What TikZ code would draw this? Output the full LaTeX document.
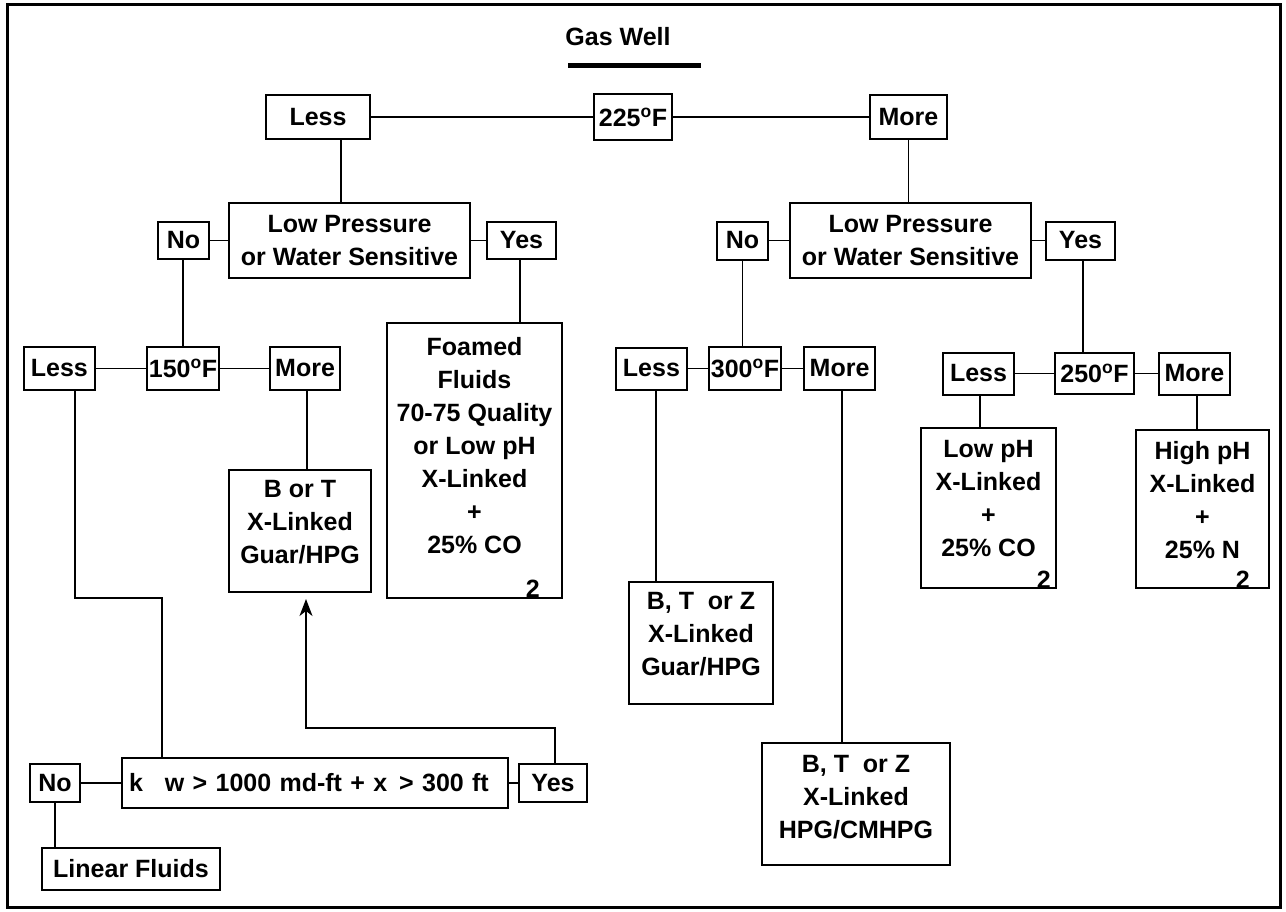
\documentclass[tikz,border=0pt]{standalone}
\usepackage{fontspec}
\setmainfont{Liberation Sans}
\usetikzlibrary{positioning,arrows.meta}

\tikzset{
  box/.style={draw, line width=2pt, inner sep=2pt, align=center,
    font=\fontsize{25}{33}\selectfont\bfseries},
  sub/.style={inner sep=0pt, font=\fontsize{25}{33}\selectfont\bfseries},
  link/.style={line width=1.6pt},
}

\begin{document}
\begin{tikzpicture}[x=1pt,y=-1pt]
    \useasboundingbox (0,0) rectangle (1286,911);
    \draw[line width=3pt] (7,4) rectangle (1280,907);

    \node[sub, anchor=base] (title) at (618,45) {Gas Well};
    \draw[line width=5pt] (568,65) -- (701,65);

    \node[box, minimum width=78pt, minimum height=46pt] (t225) at (633,117) {225\textsuperscript{o}F};
    \node[box, minimum width=104pt, minimum height=44pt, left=222pt of t225] (lessT) {Less};
    \node[box, minimum width=77pt, minimum height=44pt, right=196pt of t225] (moreT) {More};

    \node[box, minimum width=241pt, minimum height=75pt] (lpwsL) at (349.5,240.5) {Low Pressure\\or Water Sensitive};
    \node[box, minimum width=51pt, minimum height=37pt, left=18pt of lpwsL] (noL) {No};
    \node[box, minimum width=69pt, minimum height=37pt, right=15pt of lpwsL] (yesL) {Yes};

    \node[box, minimum width=241pt, minimum height=75pt] (lpwsR) at (910.5,240.5) {Low Pressure\\or Water Sensitive};
    \node[box, minimum width=51pt, minimum height=38pt, left=20pt of lpwsR] (noR) {No};
    \node[box, minimum width=69pt, minimum height=38pt, right=13pt of lpwsR] (yesR) {Yes};

    \node[box, minimum width=70pt, minimum height=43pt] (t150) at (183,368.5) {150\textsuperscript{o}F};
    \node[box, minimum width=71pt, minimum height=43pt, left=50pt of t150] (less150) {Less};
    \node[box, minimum width=70pt, minimum height=43pt, right=49pt of t150] (more150) {More};

    \node[box, minimum width=142pt, minimum height=122pt, text depth=18pt] (btL) at (300,531) {B or T\\X-Linked\\Guar/HPG};

    \node[box, minimum width=175pt, minimum height=275pt, text depth=31pt] (foam) at (474.5,460.5)
        {Foamed\\Fluids\\70-75 Quality\\or Low pH\\X-Linked\\+\\25\% CO};
    \node[sub, anchor=base east] (foam2) at ([xshift=-23pt,yshift=2pt]foam.south east) {2};

    \node[box, minimum width=70pt, minimum height=43pt] (t300) at (745,368.5) {300\textsuperscript{o}F};
    \node[box, minimum width=71pt, minimum height=42pt, left=20pt of t300] (less300) {Less};
    \node[box, minimum width=71pt, minimum height=43pt, right=21pt of t300] (more300) {More};

    \node[box, minimum width=144pt, minimum height=122pt, text depth=18pt] (btzG) at (701,643) {B, T\ \ or Z\\X-Linked\\Guar/HPG};
    \node[box, minimum width=188pt, minimum height=122pt, text depth=14pt] (hpg) at (856,804) {B, T\ \ or Z\\X-Linked\\HPG/CMHPG};

    \node[box, minimum width=79pt, minimum height=41pt] (t250) at (1094.5,373.5) {250\textsuperscript{o}F};
    \node[box, minimum width=71pt, minimum height=42pt, left=39pt of t250] (less250) {Less};
    \node[box, minimum width=71pt, minimum height=42pt, right=23pt of t250] (more250) {More};

    \node[box, minimum width=135pt, minimum height=160pt, text depth=19pt] (lowph) at (988.5,508) {Low pH\\X-Linked\\+\\25\% CO};
    \node[sub, anchor=base east] (lowph2) at ([xshift=-6pt,yshift=1pt]lowph.south east) {2};
    \node[box, minimum width=133pt, minimum height=158pt, text depth=19pt] (highph) at (1202.5,509) {High pH\\X-Linked\\+\\25\% N};
    \node[sub, anchor=base east] (highph2) at ([xshift=-20pt,yshift=1pt]highph.south east) {2};

    \node[box, minimum width=386pt, minimum height=50pt, text width=372pt, align=left] (kbox) at (315,783)
        {k\hspace{22pt}w > 1000 md-ft + x\hspace{12pt}> 300 ft};
    \node[box, minimum width=50pt, minimum height=38pt, left=40pt of kbox] (noB) {No};
    \node[box, minimum width=68pt, minimum height=38pt, right=9pt of kbox] (yesB) {Yes};
    \node[box, minimum width=178pt, minimum height=42pt] (linF) at (131,869) {Linear Fluids};

    \coordinate (bendL) at (162,598);
    \coordinate (bendR) at (306,728);

    \draw[link] (lessT) -- (t225) -- (moreT);
    \draw[link] ([xshift=23pt]lessT.south) -- ([xshift=23pt]lessT.south |- lpwsL.north);
    \draw[link] (moreT.south) -- (moreT.south |- lpwsR.north);
    \draw[link] (noL) -- (lpwsL) -- (yesL);
    \draw[link] (noR) -- (lpwsR) -- (yesR);
    \draw[link] (noL.south -| t150) -- (t150);
    \draw[link] ([xshift=-1.5pt]yesL.south) -- ([xshift=-1.5pt]yesL.south |- foam.north);
    \draw[link] (less150) -- (t150) -- (more150);
    \draw[link] ([xshift=2pt]more150.south) -- ([xshift=2pt]more150.south |- btL.north);
    \draw[link] ([xshift=15.5pt]less150.south) |- (bendL) -- (bendL |- kbox.north);
    \draw[link, -{Stealth[length=17pt, width=13pt, inset=5pt]}] ([xshift=2pt]yesB.north) |- (bendR) -- ([yshift=-6pt]bendR |- btL.south);
    \draw[link] (noB) -- (kbox) -- (yesB);
    \draw[link] (noB.south) -- (noB.south |- linF.north);
    \draw[link] (noR.south) -- (noR.south |- t300.north);
    \draw[link] ([xshift=2.5pt]yesR.south) -- ([xshift=2.5pt]yesR.south |- t250.north);
    \draw[link] (less300) -- (t300) -- (more300);
    \draw[link] ([xshift=4.5pt]less300.south) -- ([xshift=4.5pt]less300.south |- btzG.north);
    \draw[link] ([xshift=2.5pt]more300.south) -- ([xshift=2.5pt]more300.south |- hpg.north);
    \draw[link] (less250) -- (t250) -- (more250);
    \draw[link] ([xshift=1.5pt]less250.south) -- ([xshift=1.5pt]less250.south |- lowph.north);
    \draw[link] ([xshift=2.5pt]more250.south) -- ([xshift=2.5pt]more250.south |- highph.north);
\end{tikzpicture}
\end{document}
